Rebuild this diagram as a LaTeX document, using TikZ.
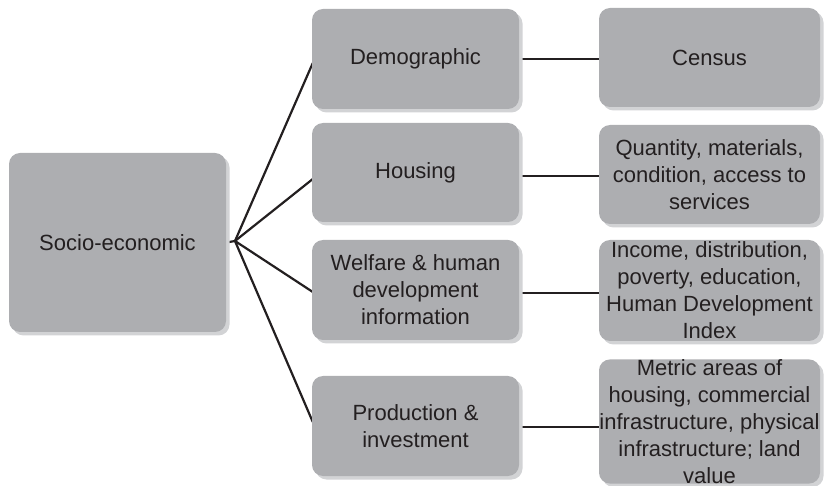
\documentclass[tikz,border=0pt]{standalone}
\usepackage{fontspec}
\setmainfont{Liberation Sans}
\usetikzlibrary{shadows,calc}
\definecolor{boxgray}{HTML}{ADAEB1}
\definecolor{shadowgray}{HTML}{D2D3D5}
\definecolor{inkc}{HTML}{231F20}
\pgfdeclarelayer{background}
\pgfsetlayers{background,main}
\begin{document}
\begin{tikzpicture}[x=1pt,y=-1pt,
  gbox/.style={fill=boxgray, rounded corners=11pt, inner sep=0pt, align=center,
    text=inkc, font=\fontsize{22}{27}\selectfont,
    drop shadow={shadow xshift=3.5pt, shadow yshift=-3.5pt, fill=shadowgray, opacity=1}},
  conn/.style={draw=inkc, line width=2.2pt}]
\useasboundingbox (0,0) rectangle (833,486);
% left
\node[gbox, minimum width=217pt, minimum height=179pt] (socio) at (117.5,242.5) {Socio-economic};
% middle column
\node[gbox, minimum width=207pt, minimum height=100pt] (demo) at (415.5,59) {Demographic};
\node[gbox, minimum width=207pt, minimum height=99pt] (housing) at (415.5,172.5) {Housing};
\node[gbox, minimum width=207pt, minimum height=100pt] (welfare) at (415.5,290) {Welfare \& human\\development\\information};
\node[gbox, minimum width=207pt, minimum height=100pt] (prod) at (415.5,426) {Production \&\\investment};
% right column
\node[gbox, minimum width=221pt, minimum height=99pt] (census) at (709.5,57.5) {Census};
\node[gbox, minimum width=221pt, minimum height=99pt] (quant) at (709.5,174.5) {Quantity, materials,\\condition, access to\\services};
\node[gbox, minimum width=221pt, minimum height=101pt] (income) at (709.5,290.5) {Income, distribution,\\poverty, education,\\Human Development\\Index};
\node[gbox, minimum width=221pt, minimum height=120pt] (metric) at (709.5,421.5) {Metric areas of\\housing, commercial\\infrastructure, physical\\infrastructure; land\\value};
\coordinate (apex) at (235,241);
\begin{pgfonlayer}{background}
\draw[conn] (socio.east) -- (apex);
\draw[conn] (apex) -- ($(demo.west)+(1,4)$);
\draw[conn] (apex) -- ($(housing.west)+(1,6.5)$);
\draw[conn] (apex) -- ($(welfare.west)+(1,2)$);
\draw[conn] (apex) -- ($(prod.west)+(1,-4)$);
\draw[conn] (demo.east) -- (census.west |- demo.east);
\draw[conn] ($(housing.east)+(0,3.5)$) -- ($(quant.west |- housing.east)+(0,3.5)$);
\draw[conn] ($(welfare.east)+(0,3)$) -- ($(income.west |- welfare.east)+(0,3)$);
\draw[conn] ($(prod.east)+(0,1)$) -- ($(metric.west |- prod.east)+(0,1)$);
\end{pgfonlayer}
\end{tikzpicture}
\end{document}
